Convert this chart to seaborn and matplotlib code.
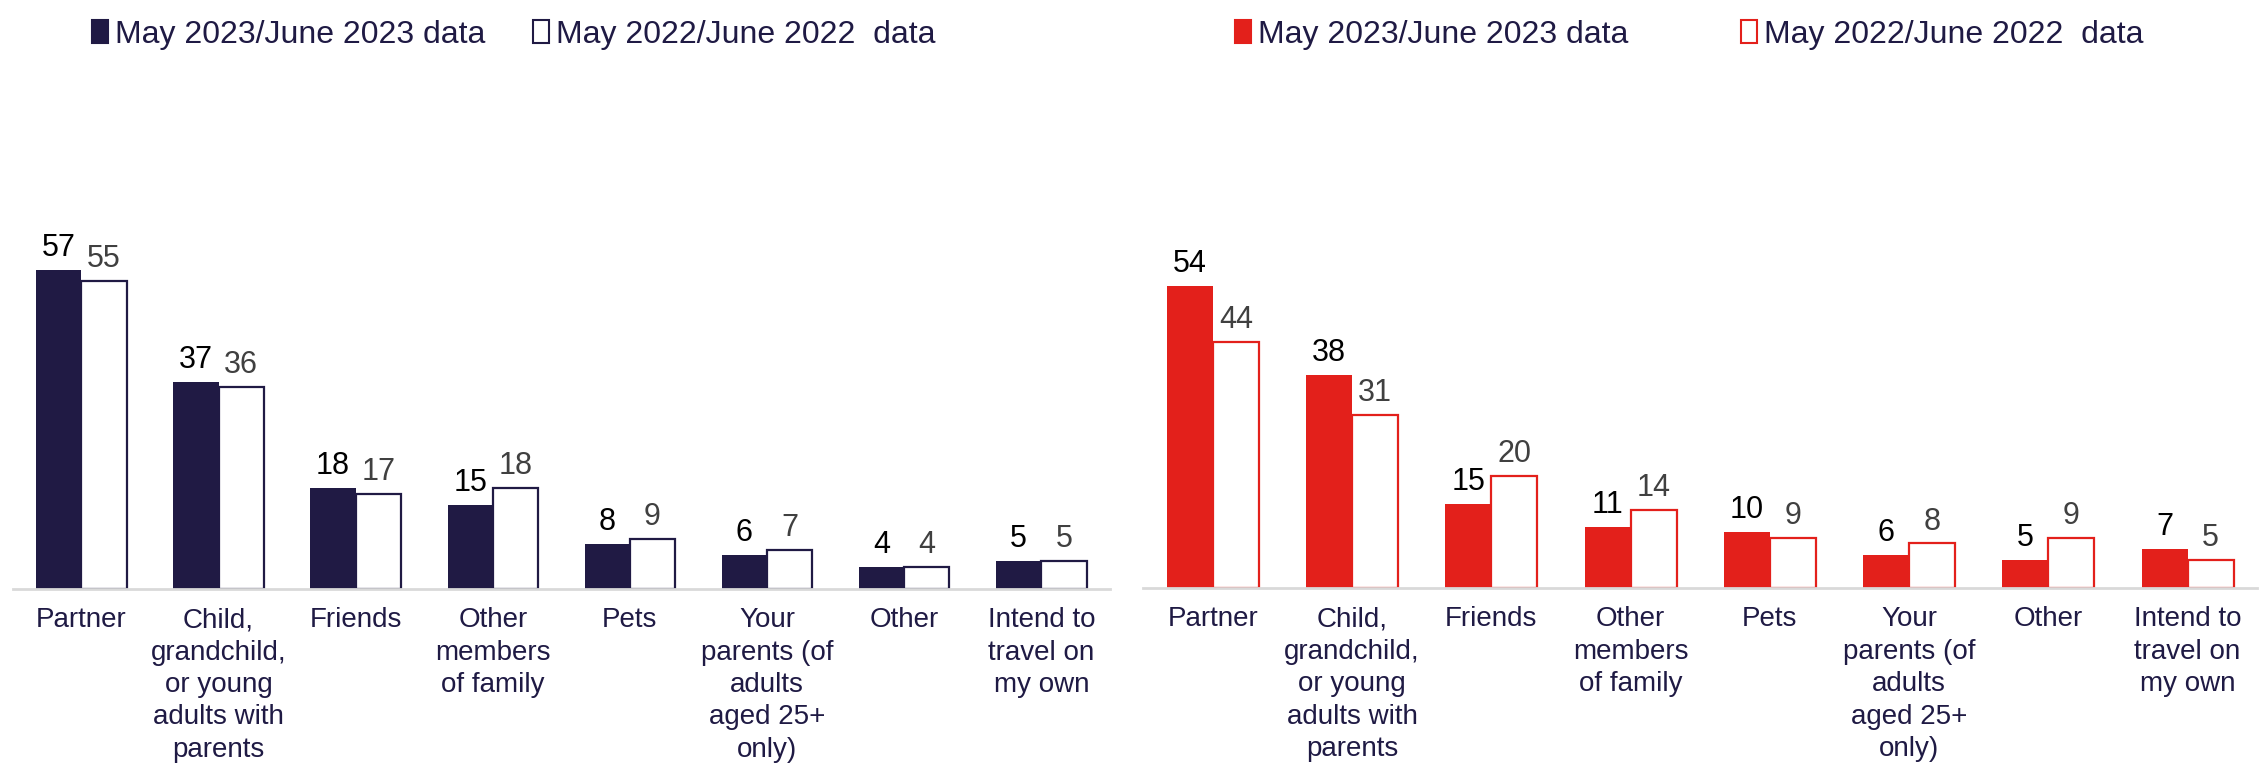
import pandas as pd
import numpy as np
import matplotlib
matplotlib.use('Agg')
import matplotlib.pyplot as plt
from matplotlib.patches import Patch
import seaborn as sns

categories = ['Partner', 'Child,\ngrandchild,\nor young\nadults with\nparents', 'Friends',
              'Other\nmembers\nof family', 'Pets', 'Your\nparents (of\nadults\naged 25+\nonly)',
              'Other', 'Intend to\ntravel on\nmy own']
series_names = ['May 2023/June 2023 data', 'May 2022/June 2022  data']

left_2023 = [57, 37, 18, 15, 8, 6, 4, 5]
left_2022 = [55, 36, 17, 18, 9, 7, 4, 5]
right_2023 = [54, 38, 15, 11, 10, 6, 5, 7]
right_2022 = [44, 31, 20, 14, 9, 8, 9, 5]

NAVY = '#201a44'
RED = '#e3201b'
TEXT = '#1f1a44'

sns.set_style('white')
plt.rcParams['font.family'] = ['Liberation Sans', 'DejaVu Sans']


def make_df(v23, v22):
    return pd.DataFrame({
        'category': categories * 2,
        'series': [series_names[0]] * len(categories) + [series_names[1]] * len(categories),
        'value': list(v23) + list(v22),
    })


def draw_panel(ax, v23, v22, color):
    df = make_df(v23, v22)
    sns.barplot(data=df, x='category', y='value', hue='series', order=categories,
                hue_order=series_names, palette=[color, 'white'], width=0.66, gap=0,
                saturation=1, ax=ax, legend=False)
    for p in ax.containers[0]:
        p.set_edgecolor(color)
        p.set_linewidth(0)
    for p in ax.containers[1]:
        p.set_edgecolor(color)
        p.set_linewidth(1.6)
    ax.bar_label(ax.containers[0], fontsize=22, color='black', padding=5)
    ax.bar_label(ax.containers[1], fontsize=22, color='#404040', padding=5)
    ax.set_ylim(0, 70)
    ax.set_xlim(-0.5, len(categories) - 0.5)
    ax.set_xlabel('')
    ax.set_ylabel('')
    ax.set_yticks([])
    ax.tick_params(axis='x', length=0, pad=13, labelsize=20, labelcolor=TEXT)
    for lbl in ax.get_xticklabels():
        lbl.set_linespacing(1.32)
    for s in ['top', 'right', 'left']:
        ax.spines[s].set_visible(False)
    ax.spines['bottom'].set_color('#d9d9d9')
    ax.spines['bottom'].set_linewidth(2)


fig = plt.figure(figsize=(22.64, 7.66), dpi=100)
ax1 = fig.add_axes([0.0057, 0.231, 0.4845, 0.512])
ax2 = fig.add_axes([0.505, 0.232, 0.492, 0.512])

draw_panel(ax1, left_2023, left_2022, NAVY)
draw_panel(ax2, right_2023, right_2022, RED)

for color, x0, colsp in [(NAVY, 0.028, 1.5), (RED, 0.533, 3.5)]:
    handles = [Patch(facecolor=color, edgecolor=color, linewidth=1.5),
               Patch(facecolor='white', edgecolor=color, linewidth=1.5)]
    fig.legend(handles, series_names, loc='upper left', bbox_to_anchor=(x0, 1.012),
               ncol=2, frameon=False, fontsize=23, handlelength=0.5, handleheight=0.75,
               handletextpad=0.22, columnspacing=colsp, labelcolor=TEXT)

fig.savefig('out.png', dpi=100)
